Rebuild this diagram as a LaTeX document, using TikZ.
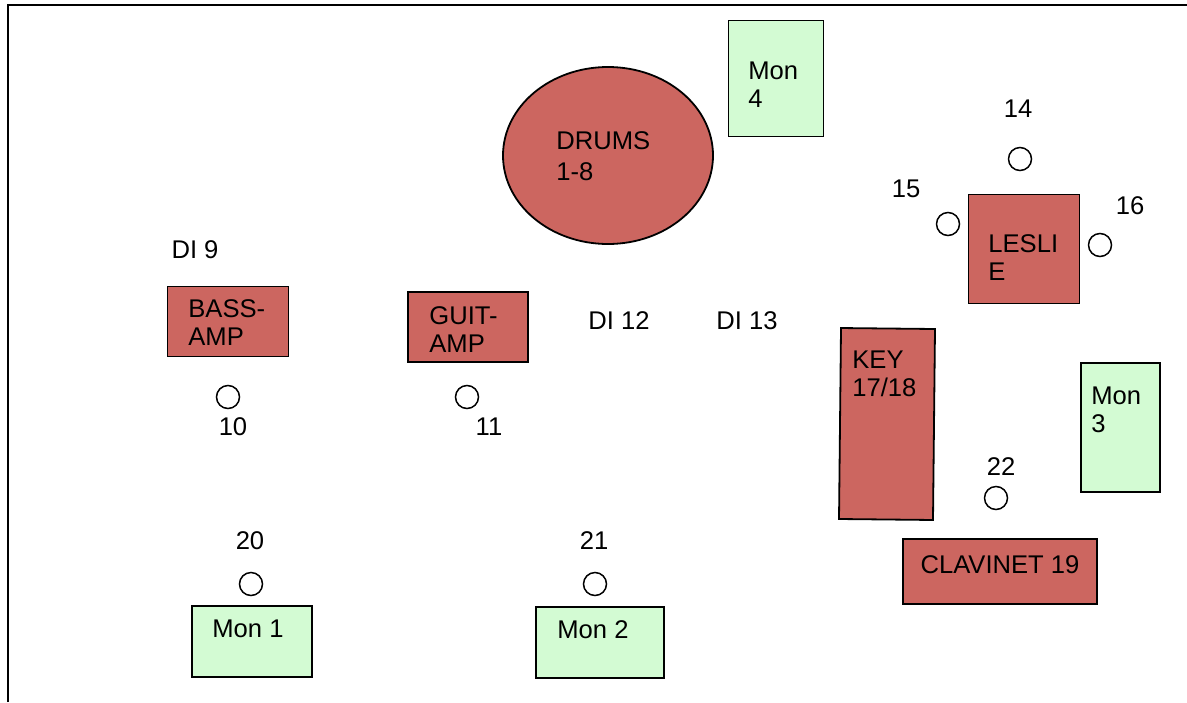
\documentclass[tikz,border=0pt]{standalone}
\usepackage{fontspec}
\setmainfont{Liberation Sans}
\usetikzlibrary{shapes.geometric}

\definecolor{gearred}{HTML}{CC6660}
\definecolor{mongreen}{HTML}{D3FBD3}

\begin{document}
\begin{tikzpicture}[
    x=0.5pt,y=-0.5pt,
    font=\fontsize{12.8}{13.7}\selectfont,
    gear/.style={rectangle,draw,line width=0.9pt,fill=gearred,inner sep=0pt},
    kit/.style={ellipse,draw,line width=0.9pt,fill=gearred,inner sep=0pt},
    monitor/.style={rectangle,draw,line width=0.9pt,fill=mongreen,inner sep=0pt},
    mic/.style={circle,draw,line width=0.75pt,fill=white,minimum size=11.5pt,inner sep=0pt},
    tag/.style={anchor=base,inner sep=0pt},
    lines/.style={anchor=base west,align=left,inner sep=0pt}
  ]

    \useasboundingbox (0,0) rectangle (1187,702);
    \draw[line width=1pt] (8,702) |- (1187,5);

    \node[kit,minimum width=105pt,minimum height=88.5pt] (drums) at (608,155.5) {};
    \node[monitor,minimum width=47.5pt,minimum height=58pt] (mon4) at (776,78.5) {};
    \node[gear,minimum width=55.5pt,minimum height=54.5pt] (leslie) at (1024,249) {};
    \node[gear,minimum width=60.5pt,minimum height=35pt] (bassamp) at (228,321.5) {};
    \node[gear,minimum width=60pt,minimum height=35pt] (guitamp) at (468,327) {};
    \node[gear,minimum width=47pt,minimum height=95.5pt,rotate=-0.6] (keys) at (887,424) {};
    \node[monitor,minimum width=39.5pt,minimum height=64.5pt] (mon3) at (1120.5,427.5) {};
    \node[gear,minimum width=97pt,minimum height=32.5pt] (clavinet) at (1000,571.5) {};
    \node[monitor,minimum width=60pt,minimum height=35.5pt] (mon1) at (252,641.5) {};
    \node[monitor,minimum width=64pt,minimum height=35.5pt] (mon2) at (600,642.5) {};

    \node[mic] (mic14) at (1020,159) {};
    \node[mic] (mic15) at (948,224) {};
    \node[mic] (mic16) at (1100,245) {};
    \node[mic] (mic10) at (228,397) {};
    \node[mic] (mic11) at (467,397) {};
    \node[mic] (mic22) at (996,498) {};
    \node[mic] (mic20) at (251,584) {};
    \node[mic] (mic21) at (595,584) {};

    \node[lines,font=\fontsize{12.8}{15.5}\selectfont] (drumstxt) at (556,180) {DRUMS\\1-8};
    \node[lines] (mon4txt)    at (748,107)  {Mon\\4};
    \node[lines] (leslietxt)  at (988,280)  {LESLI\\E};
    \node[lines] (basstxt)    at (188,345)  {BASS-\\AMP};
    \node[lines] (guittxt)    at (429,352)  {GUIT-\\AMP};
    \node[lines] (keystxt)    at (852,396)  {KEY\\17/18};
    \node[lines] (mon3txt)    at (1091,432) {Mon\\3};
    \node[lines] (mon1txt)    at (212,637)  {Mon 1};
    \node[lines] (mon2txt)    at (557,638)  {Mon 2};
    \node[tag]   (clavtxt)    at (1000,573) {CLAVINET 19};

    \node[tag] (di9)  at (195,258)  {DI 9};
    \node[tag] (di12) at (619,329)  {DI 12};
    \node[tag] (di13) at (747,329)  {DI 13};
    \node[tag] (n14)  at (1018,117) {14};
    \node[tag] (n15)  at (906,197)  {15};
    \node[tag] (n16)  at (1130,214) {16};
    \node[tag] (n10)  at (233,435)  {10};
    \node[tag] (n11)  at (489,435)  {11};
    \node[tag] (n22)  at (1001,475) {22};
    \node[tag] (n20)  at (250,549)  {20};
    \node[tag] (n21)  at (594,549)  {21};
\end{tikzpicture}
\end{document}
